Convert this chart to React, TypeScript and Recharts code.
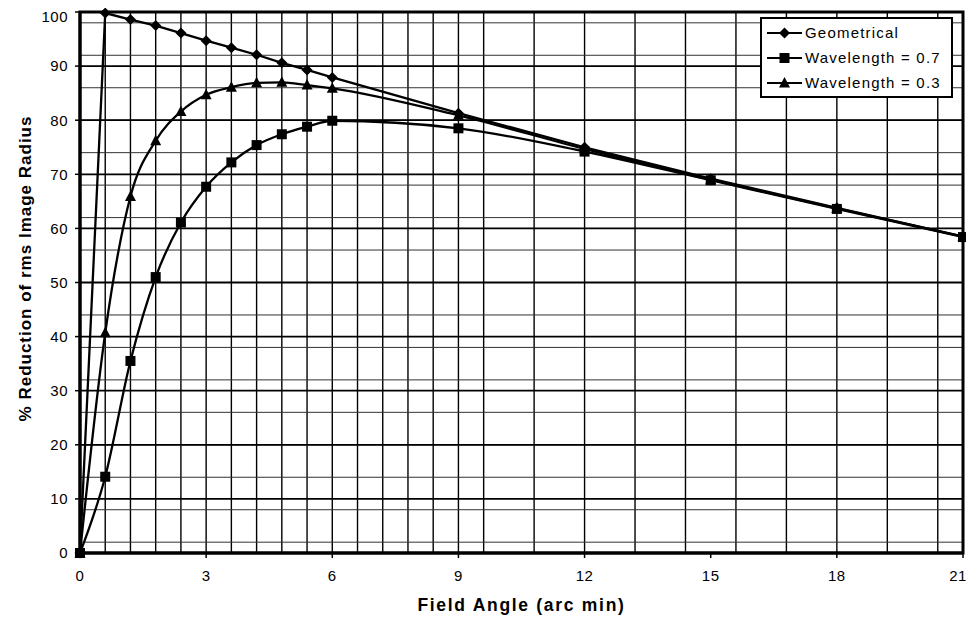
import React from "react";
import {
  LineChart,
  Line,
  XAxis,
  YAxis,
  CartesianGrid,
  Legend,
  ReferenceArea,
  Label,
} from "recharts";

const angles = [0, 0.6, 1.2, 1.8, 2.4, 3, 3.6, 4.2, 4.8, 5.4, 6, 9, 12, 15, 18, 21];
const geometrical = [0, 99.8, 98.6, 97.5, 96.1, 94.7, 93.4, 92.1, 90.6, 89.3, 87.9, 81.3, 75.0, 69.2, 63.8, 58.5];
const wave07 = [0, 14.1, 35.5, 51.0, 61.1, 67.7, 72.2, 75.4, 77.4, 78.8, 79.9, 78.5, 74.2, 68.9, 63.6, 58.4];
const wave03 = [0, 40.7, 65.9, 76.2, 81.6, 84.7, 86.1, 86.9, 87.0, 86.5, 85.9, 80.9, 74.7, 69.0, 63.7, 58.5];

const xTicks = [0, 3, 6, 9, 12, 15, 18, 21];
const yTicks = [0, 10, 20, 30, 40, 50, 60, 70, 80, 90, 100];
// minor grid: every 0.6 arc min and every 2 %
const xMinor = Array.from({ length: 34 }, (_, i) => +((i + 1) * 0.6).toFixed(1));
const yMinor = Array.from({ length: 49 }, (_, i) => (i + 1) * 2);

const data = angles.map((a, i) => ({
  angle: a,
  geo: geometrical[i],
  w07: wave07[i],
  w03: wave03[i],
}));

const FONT = "'Liberation Sans', Arial, Helvetica, sans-serif";

type Shape = "diamond" | "square" | "triangle";

const marker = (shape: Shape, cx: number, cy: number, key?: string | number) => {
  if (shape === "diamond")
    return <path key={key} d={`M${cx},${cy - 5.5}L${cx + 5.5},${cy}L${cx},${cy + 5.5}L${cx - 5.5},${cy}Z`} fill="#000" />;
  if (shape === "square")
    return <rect key={key} x={cx - 5} y={cy - 5} width={10} height={10} fill="#000" />;
  return <path key={key} d={`M${cx},${cy - 6}L${cx + 5.5},${cy + 4.5}L${cx - 5.5},${cy + 4.5}Z`} fill="#000" />;
};

const dotFor = (shape: Shape) => (props: any) => {
  const { cx, cy, index } = props;
  if (cx == null || cy == null) return <g key={index} />;
  return marker(shape, cx, cy, index);
};

const legendItems: { label: string; shape: Shape }[] = [
  { label: "Geometrical", shape: "diamond" },
  { label: "Wavelength = 0.7", shape: "square" },
  { label: "Wavelength = 0.3", shape: "triangle" },
];

const LegendBox = () => (
  <div
    style={{
      border: "2.5px solid #000",
      background: "#fff",
      padding: "1px 4px 1px 5px",
      fontFamily: FONT,
      fontSize: 15,
      letterSpacing: 1.2,
      color: "#000",
      width: 180,
    }}
  >
    {legendItems.map((it) => (
      <div key={it.label} style={{ display: "flex", alignItems: "center", height: 25 }}>
        <svg width={35} height={12} style={{ marginRight: 3 }}>
          <line x1={0} y1={6} x2={35} y2={6} stroke="#000" strokeWidth={2.2} />
          {marker(it.shape, 17.5, 6)}
        </svg>
        <span>{it.label}</span>
      </div>
    ))}
  </div>
);

const YTitle = (props: any) => {
  const { viewBox } = props;
  const cx = viewBox.x + 17;
  const cy = viewBox.y + viewBox.height / 2 - 14;
  return (
    <text
      x={cx}
      y={cy}
      transform={`rotate(-90 ${cx} ${cy})`}
      textAnchor="middle"
      dominantBaseline="central"
      fontFamily={FONT}
      fontSize={17}
      letterSpacing={1}
      fontWeight="bold"
      fill="#000"
    >
      % Reduction of rms Image Radius
    </text>
  );
};

export default function App() {
  return (
    <LineChart
      width={958}
      height={609}
      data={data}
      margin={{ top: 4, right: 3, left: 0, bottom: 0 }}
      style={{ fontFamily: FONT }}
    >
      <CartesianGrid stroke="#000" strokeWidth={1.4} horizontal={false} verticalValues={xMinor} />
      <CartesianGrid stroke="#333" strokeWidth={1} vertical={false} horizontalValues={yMinor} />
      <CartesianGrid stroke="#000" strokeWidth={1.8} vertical={false} horizontalValues={yTicks} />
      <XAxis
        dataKey="angle"
        type="number"
        domain={[0, 21]}
        ticks={xTicks}
        height={64}
        tickSize={5}
        tickMargin={12}
        tick={{ fill: "#000", fontSize: 15, fontFamily: FONT, letterSpacing: 0.5 }}
        axisLine={{ stroke: "#000", strokeWidth: 3 }}
        tickLine={{ stroke: "#000", strokeWidth: 1.5 }}
      >
        <Label
          value="Field Angle (arc min)"
          position="insideBottom"
          offset={6}
          style={{ fontFamily: FONT, fontSize: 17.5, letterSpacing: 1.7, fontWeight: "bold", fill: "#000" }}
        />
      </XAxis>
      <YAxis
        type="number"
        domain={[0, 100]}
        ticks={yTicks}
        width={72}
        tickSize={5}
        tickMargin={7}
        tick={{ fill: "#000", fontSize: 15, fontFamily: FONT, letterSpacing: 0.5 }}
        axisLine={{ stroke: "#000", strokeWidth: 3 }}
        tickLine={{ stroke: "#000", strokeWidth: 1.5 }}
      >
        <Label content={YTitle} />
      </YAxis>
      <ReferenceArea x1={0} x2={21} y1={0} y2={100} fill="none" stroke="#000" strokeWidth={3} />
      <Line
        type="linear"
        dataKey="geo"
        name="Geometrical"
        stroke="#000"
        strokeWidth={2.3}
        dot={dotFor("diamond")}
        isAnimationActive={false}
      />
      <Line
        type="monotone"
        dataKey="w07"
        name="Wavelength = 0.7"
        stroke="#000"
        strokeWidth={2.3}
        dot={dotFor("square")}
        isAnimationActive={false}
      />
      <Line
        type="monotone"
        dataKey="w03"
        name="Wavelength = 0.3"
        stroke="#000"
        strokeWidth={2.3}
        dot={dotFor("triangle")}
        isAnimationActive={false}
      />
      <Legend
        layout="vertical"
        align="center"
        verticalAlign="middle"
        content={<LegendBox />}
        wrapperStyle={{ position: "absolute", left: 752, top: 9, width: "auto", height: "auto" }}
      />
    </LineChart>
  );
}
